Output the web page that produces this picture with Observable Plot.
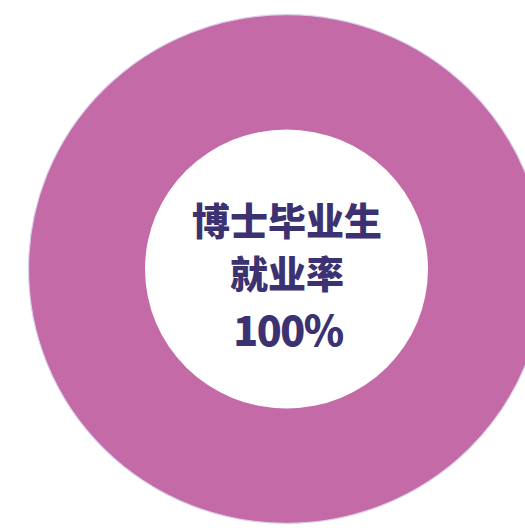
<!DOCTYPE html>
<html>
<head>
<meta charset="utf-8">
<script src="https://cdn.jsdelivr.net/npm/d3@7"></script>
<script src="https://cdn.jsdelivr.net/npm/@observablehq/plot@0.6"></script>
<style>
  html, body { margin: 0; padding: 0; background: #fff; }
</style>
</head>
<body>
<div id="chart"></div>
<script>
// Data
const categories = ["已就业"];
const values = [100];
const labelLines = ["博士毕业生", "就业率", "100%"];
const labelSizes = [38, 38, 42];

const W = 525, H = 531;
const cx = 286.5, cy = 269, outerR = 258, innerR = 141.5, squash = 0.986;
const ringColor = "#c46aa6";
const textColor = "#3d3271";

const slices = categories.map((c, i) => ({category: c, value: values[i]}));

function donutMark(index, scales, values_, dimensions) {
  const x0 = scales.x(cx), y0 = scales.y(cy);
  const pie = d3.pie().value(d => d.value).sort(null)(slices);
  const arc = d3.arc().innerRadius(innerR).outerRadius(outerR);
  const g = d3.create("svg:g")
    .attr("transform", `translate(${x0},${y0}) scale(1,${squash})`);
  g.selectAll("path.slice").data(pie).join("path")
    .attr("class", "slice")
    .attr("d", arc)
    .attr("fill", ringColor);
  g.append("circle").attr("r", outerR).attr("fill", "none")
    .attr("stroke", "#d9d0ea").attr("stroke-width", 1.2);
  return g.node();
}

const textData = labelLines.map((t, i) => ({text: t, y: [222, 275, 332][i], size: labelSizes[i]}));

const plot = Plot.plot({
  width: W,
  height: H,
  margin: 0,
  x: {domain: [0, W], range: [0, W], axis: null},
  y: {domain: [0, H], range: [0, H], axis: null},
  marks: [
    donutMark,
    Plot.text(textData.slice(0, 2), {
      x: () => cx, y: "y", text: "text",
      fontSize: 38, fontWeight: 800, fill: textColor,
      fontFamily: "'Noto Sans CJK SC', sans-serif"
    }),
    Plot.text(textData.slice(2), {
      x: () => cx + 1, y: "y", text: "text",
      fontSize: 41, fontWeight: 900, fill: textColor,
      fontFamily: "'Noto Sans CJK SC', sans-serif"
    })
  ]
});
d3.select(plot).selectAll("text").filter(function() { return this.textContent === "100%"; })
  .style("letter-spacing", "-1.5px");
document.getElementById("chart").appendChild(plot);
</script>
</body>
</html>
